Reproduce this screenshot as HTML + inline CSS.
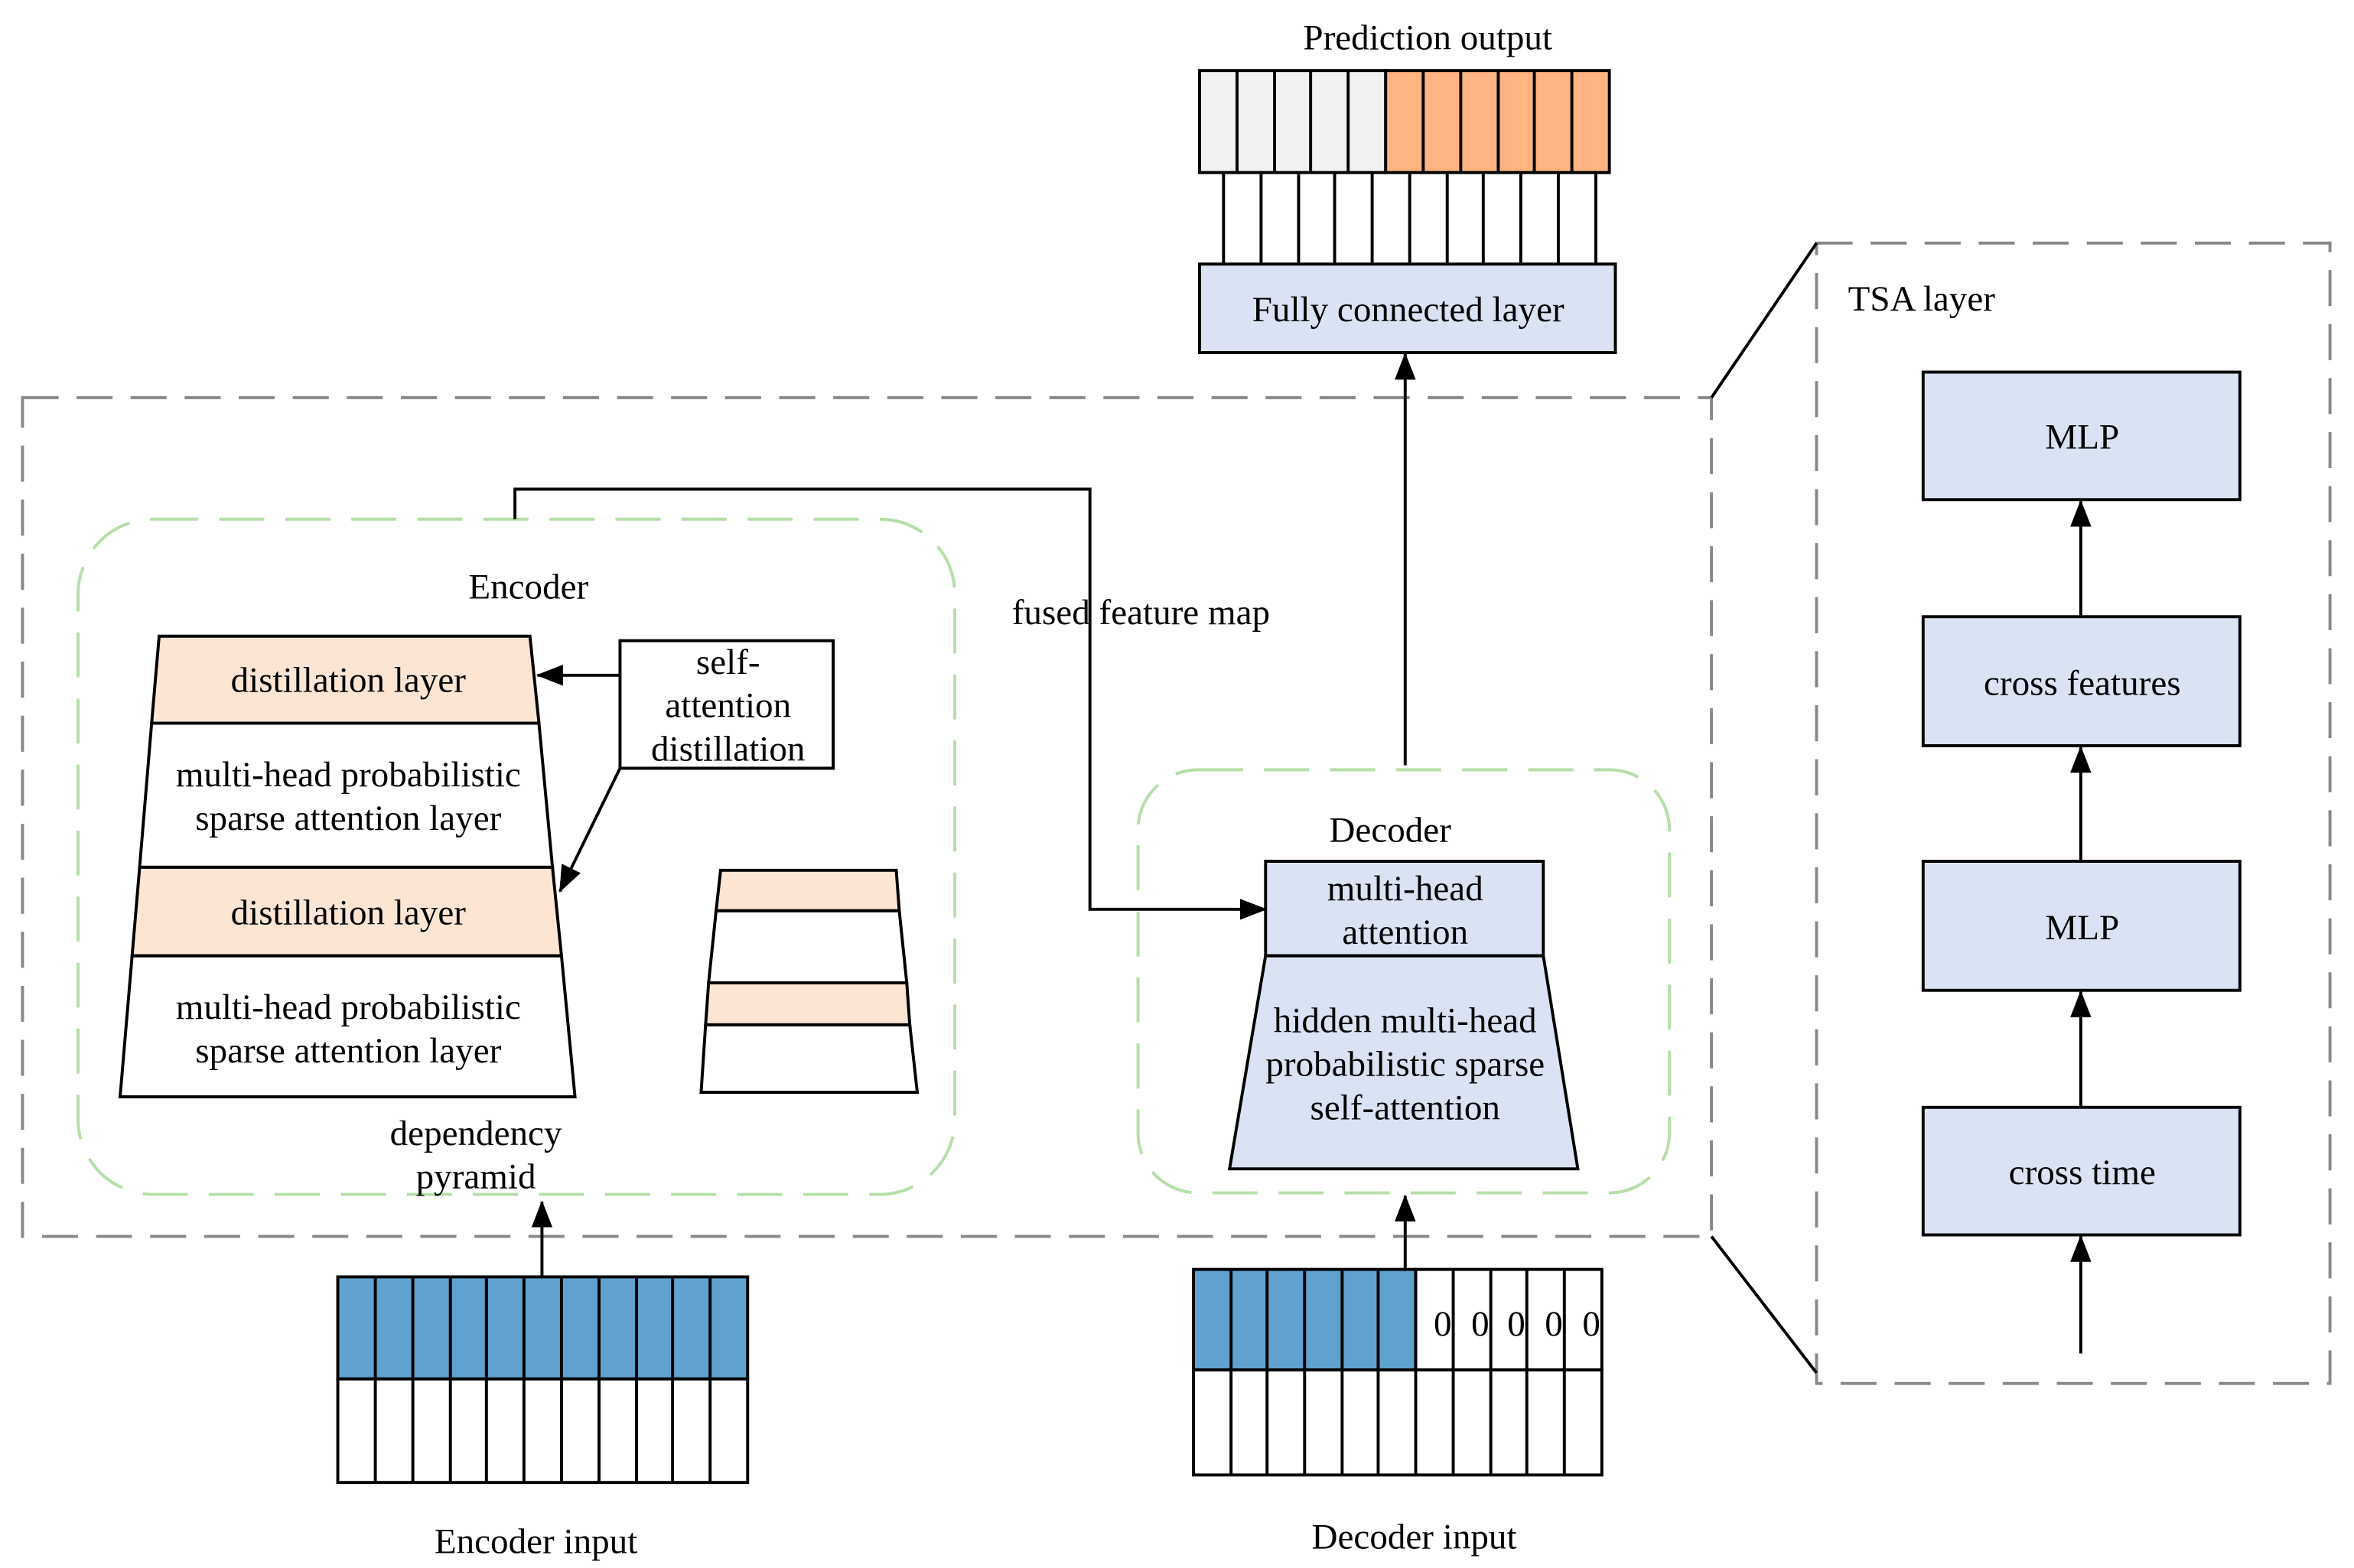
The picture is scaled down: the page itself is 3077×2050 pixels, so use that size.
<!DOCTYPE html>
<html><head><meta charset="utf-8"><style>
html,body{margin:0;padding:0;background:#fff}
svg{display:block}
text{font-family:"Liberation Serif",serif;font-size:24px;fill:#000;text-anchor:middle}
</style></head><body>
<svg width="3077" height="2050" viewBox="0 0 1568 1045" preserveAspectRatio="none" xmlns="http://www.w3.org/2000/svg">
<defs>
<marker id="ah2" markerWidth="18" markerHeight="14" refX="17" refY="7" orient="auto" markerUnits="userSpaceOnUse" viewBox="0 0 18 14">
<path d="M0,0 L18,7 L0,14 z" fill="#000"/>
</marker>
</defs>
<g stroke="#888" stroke-width="2" fill="none" stroke-dasharray="24,12">
<rect x="15" y="265" width="1125" height="559"/>
<rect x="1210" y="162" width="342" height="760"/>
</g>
<g stroke="#000" stroke-width="2">
<line x1="1140" y1="265" x2="1210" y2="162"/>
<line x1="1140" y1="824" x2="1210" y2="915"/>
</g>
<g stroke="#b5dfa8" stroke-width="2" fill="none" stroke-dasharray="30,14">
<rect x="52" y="346" width="584" height="450" rx="50"/>
<rect x="758" y="513" width="354" height="282" rx="40"/>
</g>
<text x="951" y="33">Prediction output</text>
<g stroke="#000" stroke-width="2">
<rect x="799" y="47" width="124" height="68" fill="#f1f1f1"/>
<rect x="923" y="47" width="149" height="68" fill="#ffb482"/>
<line x1="824" y1="47" x2="824" y2="115"/><line x1="849" y1="47" x2="849" y2="115"/><line x1="873" y1="47" x2="873" y2="115"/><line x1="898" y1="47" x2="898" y2="115"/>
<line x1="948" y1="47" x2="948" y2="115"/><line x1="973" y1="47" x2="973" y2="115"/><line x1="998" y1="47" x2="998" y2="115"/><line x1="1022" y1="47" x2="1022" y2="115"/><line x1="1047" y1="47" x2="1047" y2="115"/>
<line x1="815" y1="115" x2="815" y2="176"/><line x1="840" y1="115" x2="840" y2="176"/><line x1="865" y1="115" x2="865" y2="176"/><line x1="889" y1="115" x2="889" y2="176"/><line x1="914" y1="115" x2="914" y2="176"/><line x1="939" y1="115" x2="939" y2="176"/><line x1="964" y1="115" x2="964" y2="176"/><line x1="988" y1="115" x2="988" y2="176"/><line x1="1013" y1="115" x2="1013" y2="176"/><line x1="1038" y1="115" x2="1038" y2="176"/><line x1="1063" y1="115" x2="1063" y2="176"/>
<rect x="799" y="176" width="277" height="59" fill="#dae3f3"/>
</g>
<text x="938" y="214">Fully connected layer</text>
<line x1="936" y1="510" x2="936" y2="236" stroke="#000" stroke-width="2" marker-end="url(#ah2)"/>
<text x="352" y="399">Encoder</text>
<g stroke="#000" stroke-width="2">
<polygon points="106,424 353,424 359,482 101,482" fill="#fde5d4"/>
<polygon points="101,482 359,482 368,578 93,578" fill="#fff"/>
<polygon points="93,578 368,578 374,637 88,637" fill="#fde5d4"/>
<polygon points="88,637 374,637 383,731 80,731" fill="#fff"/>
<rect x="413" y="427" width="142" height="85" fill="#fff"/>
<line x1="413" y1="450" x2="358" y2="450" marker-end="url(#ah2)"/>
<line x1="413" y1="512" x2="373" y2="594" marker-end="url(#ah2)"/>
<polygon points="480,580 597,580 599,607 477,607" fill="#fde5d4"/>
<polygon points="477,607 599,607 604,655 472,655" fill="#fff"/>
<polygon points="472,655 604,655 606,683 470,683" fill="#fde5d4"/>
<polygon points="470,683 606,683 611,728 467,728" fill="#fff"/>
</g>
<text x="232" y="461">distillation layer</text>
<text x="232" y="524">multi-head probabilistic</text>
<text x="232" y="553">sparse attention layer</text>
<text x="232" y="616">distillation layer</text>
<text x="232" y="679">multi-head probabilistic</text>
<text x="232" y="708">sparse attention layer</text>
<text x="485" y="449">self-</text>
<text x="485" y="478">attention</text>
<text x="485" y="507">distillation</text>
<text x="317" y="763">dependency</text>
<text x="317" y="792">pyramid</text>
<polyline points="343,346 343,326 726,326 726,606 843,606" fill="none" stroke="#000" stroke-width="2" marker-end="url(#ah2)"/>
<text x="760" y="416">fused feature map</text>
<text x="926" y="561">Decoder</text>
<g stroke="#000" stroke-width="2" fill="#dae3f3">
<rect x="843" y="574" width="185" height="63"/>
<polygon points="843,637 1028,637 1051,779 819,779"/>
</g>
<text x="936" y="600">multi-head</text>
<text x="936" y="629">attention</text>
<text x="936" y="688">hidden multi-head</text>
<text x="936" y="717">probabilistic sparse</text>
<text x="936" y="746">self-attention</text>
<line x1="936" y1="845" x2="936" y2="797" stroke="#000" stroke-width="2" marker-end="url(#ah2)"/>
<line x1="361" y1="851" x2="361" y2="801" stroke="#000" stroke-width="2" marker-end="url(#ah2)"/>
<g stroke="#000" stroke-width="2">
<rect x="795" y="846" width="148" height="67" fill="#5fa2cf"/>
<rect x="943" y="846" width="124" height="67" fill="#fff"/>
<rect x="795" y="913" width="272" height="70" fill="#fff"/>
<line x1="820" y1="846" x2="820" y2="983"/><line x1="844" y1="846" x2="844" y2="983"/><line x1="869" y1="846" x2="869" y2="983"/><line x1="894" y1="846" x2="894" y2="983"/><line x1="918" y1="846" x2="918" y2="983"/><line x1="943" y1="846" x2="943" y2="983"/><line x1="968" y1="846" x2="968" y2="983"/><line x1="993" y1="846" x2="993" y2="983"/><line x1="1017" y1="846" x2="1017" y2="983"/><line x1="1042" y1="846" x2="1042" y2="983"/>
</g>
<text x="961" y="890">0</text><text x="986" y="890">0</text><text x="1010" y="890">0</text><text x="1035" y="890">0</text><text x="1060" y="890">0</text>
<g stroke="#000" stroke-width="2">
<rect x="225" y="851" width="273" height="68" fill="#5fa2cf"/>
<rect x="225" y="919" width="273" height="69" fill="#fff"/>
<line x1="250" y1="851" x2="250" y2="988"/><line x1="275" y1="851" x2="275" y2="988"/><line x1="300" y1="851" x2="300" y2="988"/><line x1="324" y1="851" x2="324" y2="988"/><line x1="349" y1="851" x2="349" y2="988"/><line x1="374" y1="851" x2="374" y2="988"/><line x1="399" y1="851" x2="399" y2="988"/><line x1="424" y1="851" x2="424" y2="988"/><line x1="448" y1="851" x2="448" y2="988"/><line x1="473" y1="851" x2="473" y2="988"/>
</g>
<text x="357" y="1035">Encoder input</text>
<text x="942" y="1032">Decoder input</text>
<text x="1231" y="207" style="text-anchor:start">TSA layer</text>
<g stroke="#000" stroke-width="2" fill="#dae3f3">
<rect x="1281" y="248" width="211" height="85"/>
<rect x="1281" y="411" width="211" height="86"/>
<rect x="1281" y="574" width="211" height="86"/>
<rect x="1281" y="738" width="211" height="85"/>
</g>
<g stroke="#000" stroke-width="2">
<line x1="1386" y1="411" x2="1386" y2="334" marker-end="url(#ah2)"/>
<line x1="1386" y1="574" x2="1386" y2="498" marker-end="url(#ah2)"/>
<line x1="1386" y1="738" x2="1386" y2="661" marker-end="url(#ah2)"/>
<line x1="1386" y1="902" x2="1386" y2="824" marker-end="url(#ah2)"/>
</g>
<text x="1387" y="299">MLP</text>
<text x="1387" y="463">cross features</text>
<text x="1387" y="626">MLP</text>
<text x="1387" y="789">cross time</text>
</svg>
</body></html>
